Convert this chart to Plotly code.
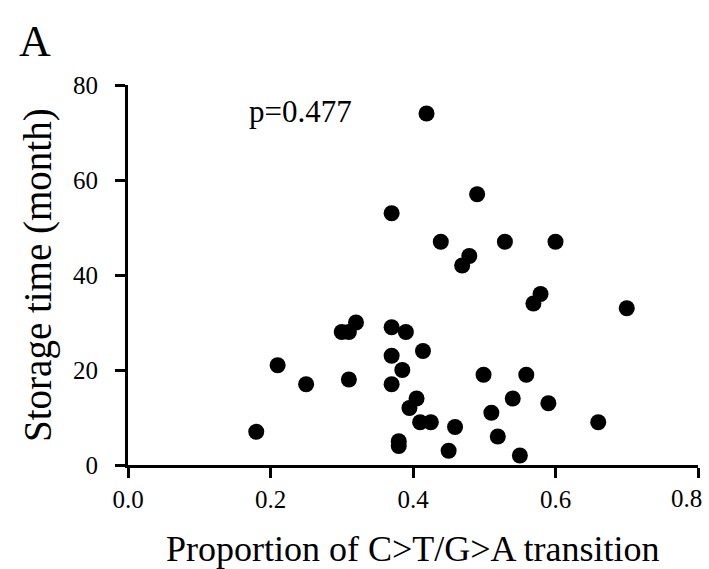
import plotly.graph_objects as go

# Proportion of C>T/G>A transition (x) and storage time in months (y)
proportion = [0.18, 0.21, 0.25, 0.31, 0.30, 0.31, 0.32, 0.37, 0.39, 0.37,
              0.385, 0.37, 0.38, 0.38, 0.414, 0.395, 0.405, 0.41, 0.425, 0.45,
              0.459, 0.499, 0.51, 0.519, 0.54, 0.55, 0.559, 0.59, 0.66, 0.70,
              0.569, 0.579, 0.419, 0.49, 0.439, 0.529, 0.60, 0.479, 0.469, 0.37]
storage_months = [7, 21, 17, 18, 28, 28, 30, 29, 28, 23,
                  20, 17, 5, 4, 24, 12, 14, 9, 9, 3,
                  8, 19, 11, 6, 14, 2, 19, 13, 9, 33,
                  34, 36, 74, 57, 47, 47, 47, 44, 42, 53]

x_ticks = [0.0, 0.2, 0.4, 0.6, 0.8]
x_tick_labels = ["0.0", "0.2", "0.4", "0.6", "0.8"]
y_ticks = [0, 20, 40, 60, 80]
y_tick_labels = ["0", "20", "40", "60", "80"]

FONT = "Liberation Serif, Times New Roman, serif"

fig = go.Figure()
fig.add_trace(go.Scatter(
    x=proportion, y=storage_months, mode="markers",
    marker=dict(color="black", size=16, line=dict(width=0)),
    showlegend=False, hoverinfo="x+y"))

axis_common = dict(showgrid=False, zeroline=False, showline=True,
                   linecolor="black", linewidth=3, ticks="outside",
                   ticklen=10, tickwidth=3, tickcolor="black",
                   automargin=False,
                   tickfont=dict(family=FONT, size=25, color="black"))

# last x tick label is drawn as an annotation, nudged left to stay inside the page
shown_x_labels = x_tick_labels[:-1] + [""]

fig.update_layout(
    width=709, height=569,
    margin=dict(l=128, r=11, t=85, b=104),
    paper_bgcolor="white", plot_bgcolor="white",
    xaxis=dict(range=[0, 0.8], tickvals=x_ticks, ticktext=shown_x_labels,
               **axis_common),
    yaxis=dict(range=[0, 80], tickvals=y_ticks, ticktext=y_tick_labels,
               ticklabelstandoff=12, **axis_common),
    annotations=[
        dict(text=x_tick_labels[-1], x=x_ticks[-1], y=0, xref="x", yref="paper",
             xanchor="center", yanchor="middle", xshift=-12, yshift=-33,
             showarrow=False, font=dict(family=FONT, size=25, color="black")),
        dict(text="Proportion of C>T/G>A transition", x=0.5, y=-0.22,
             xref="paper", yref="paper", xanchor="center", yanchor="middle",
             showarrow=False, font=dict(family=FONT, size=36, color="black")),
        dict(text="Storage time (month)", x=-0.158, y=0.5,
             xref="paper", yref="paper", xanchor="center", yanchor="middle",
             textangle=-90, showarrow=False,
             font=dict(family=FONT, size=39, color="black")),
        dict(text="p=0.477", x=0.302, y=74.5, xref="paper", yref="y",
             xanchor="center", yanchor="middle", showarrow=False,
             font=dict(family=FONT, size=31, color="black")),
        dict(text="A", x=-0.163, y=1.114, xref="paper", yref="paper",
             xanchor="center", yanchor="middle", showarrow=False,
             font=dict(family=FONT, size=44, color="black")),
    ],
)

fig.write_html("out.html")
